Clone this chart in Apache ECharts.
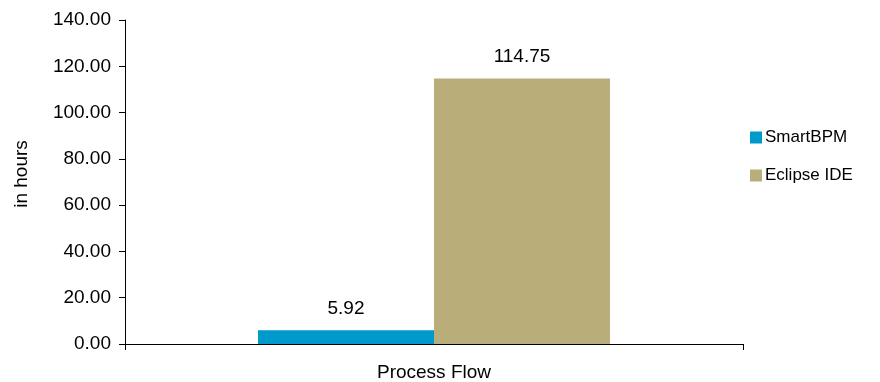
<!DOCTYPE html>
<html>
<head>
<meta charset="utf-8">
<script src="https://cdn.jsdelivr.net/npm/echarts@6/dist/echarts.min.js"></script>
<style>html,body{margin:0;padding:0;background:#fff;}#c{width:880px;height:382px;}</style>
</head>
<body>
<div id="c"></div>
<script>
const categories = ['Process Flow'];
const seriesNames = ['SmartBPM', 'Eclipse IDE'];
const smartBPM = [5.92];
const eclipseIDE = [114.75];
const yTicks = { min: 0, max: 140, interval: 20 };
const yAxisTitle = 'in hours';

const FONT = 'Liberation Sans, Arial, sans-serif';
const chart = echarts.init(document.getElementById('c'), null, { renderer: 'canvas' });
const labelCfg = {
  show: true, position: 'top', distance: 12,
  color: '#000', fontSize: 19, fontFamily: FONT,
  formatter: p => p.value.toFixed(2)
};
chart.setOption({
  animation: false,
  backgroundColor: '#fff',
  grid: { left: 125, right: 137, top: 20, bottom: 38, containLabel: false, outerBoundsMode: 'none' },
  legend: {
    orient: 'vertical', left: 745, top: 124, itemWidth: 12, itemHeight: 12,
    itemGap: 21, icon: 'rect',
    textStyle: { fontSize: 17, fontFamily: FONT, color: '#000', padding: [0, 0, 0, -2] },
    data: seriesNames
  },
  xAxis: {
    type: 'category', data: categories,
    axisLine: { lineStyle: { color: '#000', width: 1 } },
    axisTick: { show: true, length: 6, alignWithLabel: false, lineStyle: { color: '#000' } },
    axisLabel: { color: '#000', fontSize: 19, fontFamily: FONT, margin: 19 }
  },
  yAxis: {
    type: 'value', min: yTicks.min, max: yTicks.max, interval: yTicks.interval,
    name: yAxisTitle, nameLocation: 'middle', nameGap: 94, nameRotate: 90,
    nameTextStyle: { color: '#000', fontSize: 19, fontFamily: FONT, padding: [0, 0, 0, 16] },
    axisLine: { show: true, lineStyle: { color: '#000', width: 1 } },
    axisTick: { show: true, length: 6, lineStyle: { color: '#000' } },
    splitLine: { show: false },
    axisLabel: { color: '#000', fontSize: 19, fontFamily: FONT, margin: 14,
      formatter: v => v.toFixed(2) }
  },
  series: [
    { name: seriesNames[0], type: 'bar', data: smartBPM, barWidth: 176, barGap: '0%',
      itemStyle: { color: '#0099CC' }, label: labelCfg },
    { name: seriesNames[1], type: 'bar', data: eclipseIDE, barWidth: 176, barGap: '0%',
      itemStyle: { color: '#B9AD7A' }, label: labelCfg }
  ]
});
</script>
</body>
</html>
